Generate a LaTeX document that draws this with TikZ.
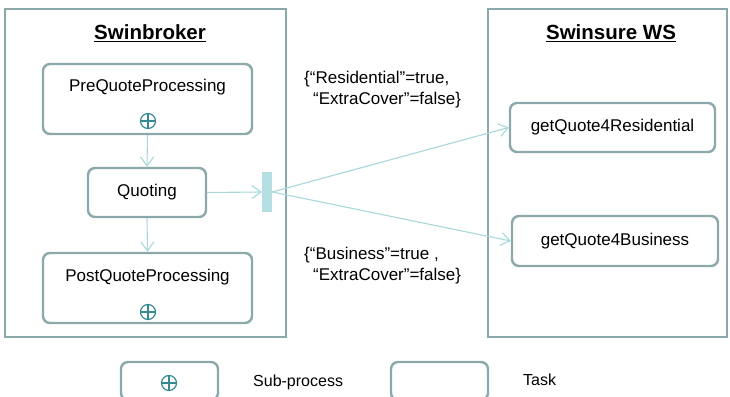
\documentclass[tikz,border=0pt]{standalone}
\usepackage{fontspec}
\setmainfont{Liberation Sans}
\usetikzlibrary{arrows.meta,positioning,calc}
\definecolor{laneline}{RGB}{139,168,171}
\definecolor{flowline}{RGB}{168,216,220}
\definecolor{barfill}{RGB}{181,223,226}
\definecolor{plusline}{RGB}{52,138,144}

\begin{document}
\begin{tikzpicture}[
    x=1pt, y=-1pt,
    every node/.style={font=\fontsize{17}{21}\selectfont},
    lane/.style={rectangle, draw=laneline, line width=2.4pt, inner sep=0pt},
    task/.style={rectangle, draw=laneline, line width=2.4pt, rounded corners=7pt,
                 inner sep=0pt, fill=white},
    subplus/.style={circle, draw=plusline, line width=1.2pt, minimum size=15pt, inner sep=0pt,
        path picture={\draw[plusline, line width=1.2pt]
            (path picture bounding box.north) -- (path picture bounding box.south)
            (path picture bounding box.west)  -- (path picture bounding box.east);}},
    lanetitle/.style={font=\fontsize{20.5}{24}\selectfont\bfseries, anchor=base},
    flow/.style={-{Straight Barb[length=9pt, width=13pt]}, draw=flowline, line width=1.1pt},
    cond/.style={align=left, anchor=west, inner sep=0pt},
    legtxt/.style={font=\fontsize{16}{19}\selectfont, anchor=base west, inner sep=0pt}
]
\clip (0,0) rectangle (730,396);
\fill[white] (0,0) rectangle (730,396);

%% ── Lanes ───────────────────────────────────────────────────────
\node[lane, minimum width=281pt, minimum height=328pt] (broker)  at (145.5,173) {};
\node[lanetitle] (brokertitle)  at (150,40) {\underline{Swinbroker}};

\node[lane, minimum width=239pt, minimum height=328pt] (insurer) at (607.5,173) {};
\node[lanetitle] (insurertitle) at (611,40) {\underline{Swinsure WS}};

%% ── Swinbroker side ─────────────────────────────────────────────
\node[task, minimum width=209pt, minimum height=70pt] (prequote) at (147.5,99) {};
\node[anchor=base] (prequotetxt) at (147.5,91) {PreQuoteProcessing};
\node[subplus] (prequoteplus) at (148,121) {};

\node[task, minimum width=118pt, minimum height=49pt] (quoting) at (147,192.5) {Quoting};

\node[task, minimum width=209pt, minimum height=70pt] (postquote) at (147.5,288) {};
\node[anchor=base] (postquotetxt) at (147.5,281) {PostQuoteProcessing};
\node[subplus] (postquoteplus) at (148,312) {};

%% split bar
\node[fill=barfill, minimum width=10pt, minimum height=40pt, inner sep=0pt]
                   (split) at (267,192) {};

%% ── Swinsure WS side ────────────────────────────────────────────
\node[task, minimum width=205pt, minimum height=49pt] (resquote) at (612.5,127.5)
    {getQuote4Residential};
\node[task, minimum width=206pt, minimum height=50pt] (busquote) at (615,241)
    {getQuote4Business};

%% ── Conditions ──────────────────────────────────────────────────
\node[cond] (rescond) at (304,90)
    {\{“Residential”=true,\\\hspace*{9pt}“ExtraCover”=false\}};
\node[cond] (buscond) at (304,266)
    {\{“Business”=true ,\\\hspace*{9pt}“ExtraCover”=false\}};

%% ── Flow ────────────────────────────────────────────────────────
\draw[flow] (prequote.south) -- (quoting.north);
\draw[flow] (quoting.south)  -- (postquote.north);
\draw[flow] (quoting.east)   -- (split.west);
\draw[flow] (split.east)     -- (resquote.west);
\draw[flow] (split.east)     -- (busquote.west);

%% ── Legend ──────────────────────────────────────────────────────
\node[task, minimum width=97pt, minimum height=38pt] (legsub) at (169.5,381) {};
\node[subplus] (legplus) at (169,383) {};
\node[legtxt] (legsubtxt) at (253,386) {Sub-process};

\node[task, minimum width=97pt, minimum height=38pt] (legtask) at (439.5,381) {};
\node[legtxt] (legtasktxt) at (523,385) {Task};

\end{tikzpicture}
\end{document}
